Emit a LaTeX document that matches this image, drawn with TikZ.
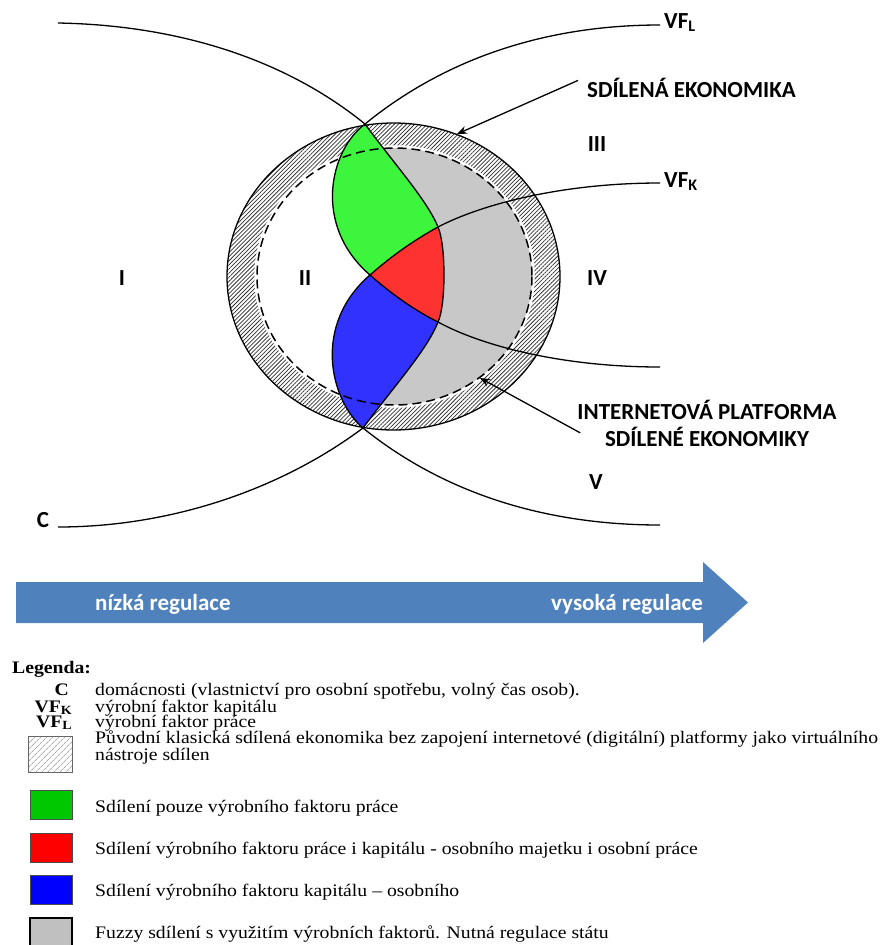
\documentclass[tikz,border=0pt]{standalone}
\usepackage{fontspec}
\setmainfont{Liberation Serif}[FakeStretch=1.12]
\newfontfamily\labfont{Carlito}
\usetikzlibrary{patterns.meta,arrows.meta}
\definecolor{lensgreen}{RGB}{60,245,60}
\definecolor{lensred}{RGB}{255,50,50}
\definecolor{lensblue}{RGB}{50,50,255}
\definecolor{lensgray}{RGB}{200,200,200}
\definecolor{leggreen}{RGB}{0,200,0}
\definecolor{legred}{RGB}{255,0,0}
\definecolor{legblue}{RGB}{0,0,255}
\definecolor{leggray}{RGB}{192,192,192}
\definecolor{arrowblue}{RGB}{79,129,189}
\newcommand{\lowsub}[1]{\raisebox{-0.12em}{\fontsize{12.5}{12.5}\selectfont #1}}
\begin{document}
\begin{tikzpicture}[x=1pt,y=-1pt,
  curve/.style={line width=1.3pt, black},
  lab/.style={font=\labfont\bfseries\fontsize{23}{27}\selectfont, inner sep=0pt},
  arrlab/.style={font=\labfont\bfseries\fontsize{23}{27}\selectfont, inner sep=0pt, text=white},
  leg/.style={font=\fontsize{17.6}{20}\selectfont, inner sep=0pt, anchor=base west, text height=11.5pt, text depth=3pt},
  legkey/.style={font=\bfseries\fontsize{17.6}{20}\selectfont, inner sep=0pt, anchor=base east, text height=11.5pt, text depth=3pt},
  ptr/.style={line width=1.3pt, -{Stealth[length=10pt,width=8pt]}},
  hatch/.style={pattern={Lines[angle=45,distance=2.9pt,line width=0.75pt]}, pattern color=black!80},
  keybox/.style={line width=0.8pt},
]
\useasboundingbox (0,0) rectangle (894,945);

% key points
\coordinate (T) at (365,124);
\coordinate (B) at (363,428);
\coordinate (M) at (370,275);
\coordinate (P) at (438,227);
\coordinate (Q) at (438,322);
\coordinate (OC) at (393.5,276.5);
\coordinate (IC) at (394.5,276.5);

% band (hatched)
\fill[white] (OC) ellipse [x radius=166.5, y radius=153.5];
\fill[hatch] (OC) ellipse [x radius=166.5, y radius=153.5];
\fill[white] (IC) ellipse [x radius=137.5, y radius=128.5];
\draw[white, line width=3.5pt] (IC) ellipse [x radius=138.5, y radius=129.5];

% gray region right of the lens
\begin{scope}
  \clip (T) .. controls (395,165) and (427,200) .. (P) .. controls (446,245) and (446,305) .. (Q)
        .. controls (427,350) and (395,385) .. (B) -- (894,428) -- (894,124) -- cycle;
  \fill[lensgray] (IC) ellipse [x radius=137.5, y radius=128.5];
\end{scope}

\def\lens{(T) .. controls (395,165) and (427,200) .. (P) .. controls (446,245) and (446,305) .. (Q)
  .. controls (427,350) and (395,385) .. (B) .. controls (330,400) and (312,325) .. (M)
  .. controls (312,225) and (330,150) .. (T) -- cycle}

% green
\begin{scope}
  \clip (0,0) -- (0,275) -- (M) .. controls (395,253) and (418,238) .. (P) -- (533,197) -- (894,183) -- (894,0) -- cycle;
  \fill[lensgreen] \lens;
\end{scope}
% red
\begin{scope}
  \clip (0,275) -- (M) .. controls (395,253) and (418,238) .. (P) -- (533,197) -- (894,183) -- (894,945) -- (0,945) -- cycle;
  \clip (0,275) -- (M) .. controls (395,297) and (418,312) .. (Q) -- (533,355) -- (894,367) -- (894,0) -- (0,0) -- cycle;
  \fill[lensred] \lens;
\end{scope}
% blue
\begin{scope}
  \clip (0,945) -- (0,275) -- (M) .. controls (395,297) and (418,312) .. (Q) -- (533,355) -- (894,367) -- (894,945) -- cycle;
  \fill[lensblue] \lens;
\end{scope}

% ellipses
\draw[line width=1.5pt, dash pattern=on 9pt off 5pt] (IC) ellipse [x radius=137.5, y radius=128.5];
\draw[line width=1.3pt] (OC) ellipse [x radius=166.5, y radius=153.5];

% lens edges
\draw[curve] \lens;
\draw[curve] (M) .. controls (395,253) and (418,238) .. (P);
\draw[curve] (M) .. controls (395,297) and (418,312) .. (Q);

% outer curves
\draw[curve] (58,23) .. controls (170,25) and (280,55) .. (T);
\draw[curve] (T) .. controls (425,75) and (520,25) .. (660,25);
\draw[curve] (B) .. controls (280,490) and (170,527) .. (58,527);
\draw[curve] (B) .. controls (425,478) and (520,525) .. (660,525);
\draw[curve] (P) .. controls (480,205) and (560,183) .. (660,183);
\draw[curve] (Q) .. controls (480,345) and (560,367) .. (660,367);

% labels
\node[lab, anchor=base west] (vfl) at (664,28) {VF\textsubscript{L}};
\node[lab, anchor=base west] (vfk) at (664,187) {VF\textsubscript{K}};
\node[lab, anchor=base west] (sel) at (587,97) {SDÍLENÁ EKONOMIKA};
\node[lab, anchor=base] (r3) at (597,151) {III};
\node[lab, anchor=base] (r4) at (597,285) {IV};
\node[lab, anchor=base] (r1) at (122,285) {I};
\node[lab, anchor=base] (r2) at (305,285) {II};
\node[lab, anchor=base] (r5) at (596,489) {V};
\node[lab, anchor=base] (cl) at (43,527) {C};
\node[lab, align=center, anchor=north] (ipl) at (707,400) {INTERNETOVÁ PLATFORMA\\SDÍLENÉ EKONOMIKY};

\coordinate (sep) at (457,134);
\coordinate (ipp) at (480,378);
\draw[ptr] (sel.west) ++(-9,-7) -- (sep);
\draw[ptr] (ipl.south west) ++(3,-14) -- (ipp);

% regulation arrow
\fill[arrowblue] (16,582) -- (703,582) -- (703,562) -- (748,602.5) -- (703,643) -- (703,623) -- (16,623) -- cycle;
\node[arrlab, anchor=base west] (lo) at (95,610) {nízká regulace};
\node[arrlab, anchor=base east] (hi) at (703,610) {vysoká regulace};

% legend
\node[leg] (lg) at (12,673) {\bfseries Legenda:};
\node[legkey] (kc) at (69,695) {C};
\node[leg] (tc) at (95,695) {domácnosti (vlastnictví pro osobní spotřebu, volný čas osob).};
\node[legkey] (kk) at (72,712) {VF\lowsub{K}};
\node[leg] (tk) at (95,712) {výrobní faktor kapitálu};
\node[legkey] (kl) at (72,727) {VF\lowsub{L}};
\node[leg] (tl) at (95,727) {výrobní faktor práce};
\draw[keybox, draw=black!60, pattern={Lines[angle=45,distance=4pt,line width=0.6pt]}, pattern color=black!50] (28,736) rectangle (72,772);
\node[leg] (th1) at (95,743) {Původní klasická sdílená ekonomika bez zapojení internetové (digitální) platformy jako virtuálního};
\node[leg] (th2) at (95,760) {nástroje sdílen};
\draw[keybox, fill=leggreen, draw=black!70] (30,790) rectangle (72,819);
\node[leg] (tg) at (95,812) {Sdílení pouze výrobního faktoru práce};
\draw[keybox, fill=legred, draw=black!70] (30,833) rectangle (72,862);
\node[leg] (tr) at (95,854) {Sdílení výrobního faktoru práce i kapitálu - osobního majetku i osobní práce};
\draw[keybox, fill=legblue, draw=black!70] (30,875) rectangle (72,904);
\node[leg] (tb) at (95,896) {Sdílení výrobního faktoru kapitálu – osobního};
\draw[line width=1.6pt, fill=leggray, draw=black] (30,918) rectangle (72,946);
\node[leg] (tf) at (95,938) {Fuzzy sdílení s využitím výrobních faktorů. Nutná regulace státu};
\end{tikzpicture}
\end{document}
